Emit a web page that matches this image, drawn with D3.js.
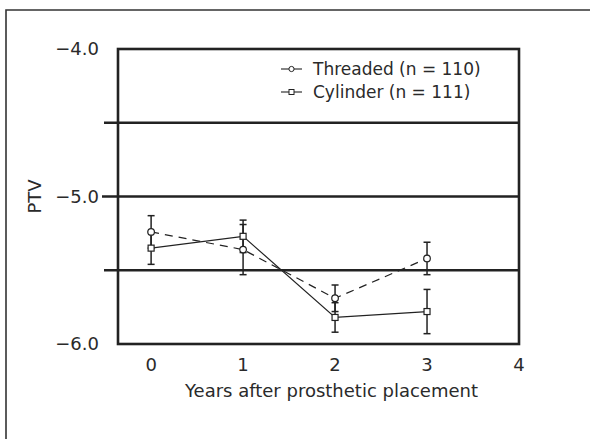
<!DOCTYPE html>
<html>
<head>
<meta charset="utf-8">
<script src="https://cdn.jsdelivr.net/npm/d3@7"></script>
<style>
body { margin: 0; background: #fff; }
text { font-family: "DejaVu Sans", sans-serif; fill: #2a2a2a; }
</style>
</head>
<body>
<div id="chart-container"></div>
<script>
// data
var years = [0, 1, 2, 3];
var threaded = [-5.24, -5.36, -5.69, -5.42];
var threadedErr = [0.11, 0.17, 0.09, 0.11];
var cylinder = [-5.35, -5.27, -5.82, -5.78];
var cylinderErr = [0.11, 0.11, 0.10, 0.15];
var yTicks = [-4.0, -5.0, -6.0];
var gridVals = [-4.5, -5.0, -5.5];
var xTicks = [0, 1, 2, 3, 4];
var legendLabels = ["Threaded (n = 110)", "Cylinder (n = 111)"];

var W = 590, H = 439;
var margin = { top: 49, right: 71, bottom: 95, left: 118 };
var width = W - margin.left - margin.right;
var height = H - margin.top - margin.bottom;

var svg = d3.select("#chart-container").append("svg")
	.attr("width", W)
	.attr("height", H);

// outer frame (only top and left edges show)
svg.append("path")
	.attr("d", "M6,439 V10 H590")
	.attr("fill", "none")
	.attr("stroke", "#333")
	.attr("stroke-width", 1.6);

var g = svg.append("g")
	.attr("transform", "translate(" + margin.left + "," + margin.top + ")");

var x = d3.scaleLinear().domain([-0.36, 4]).range([0, width]);
var y = d3.scaleLinear().domain([-6, -4]).range([height, 0]);

// horizontal lines, poking out left of the box like ticks
g.selectAll(".grid")
	.data(gridVals)
	.enter().append("line")
	.attr("class", "grid")
	.attr("x1", d => d == -5 ? -16 : -14).attr("x2", width)
	.attr("y1", d => y(d)).attr("y2", d => y(d))
	.attr("stroke", "#222")
	.attr("stroke-width", 2.6);

// box
g.append("rect")
	.attr("width", width).attr("height", height)
	.attr("fill", "none")
	.attr("stroke", "#222")
	.attr("stroke-width", 2.6);

// y tick labels
var fmt = d => "\u2212" + Math.abs(d).toFixed(1);
g.selectAll(".ylab")
	.data(yTicks)
	.enter().append("text")
	.attr("x", -19)
	.attr("y", d => y(d))
	.attr("dy", "0.36em")
	.attr("text-anchor", "end")
	.style("font-size", "18px")
	.text(fmt);

// x tick labels
g.selectAll(".xlab")
	.data(xTicks)
	.enter().append("text")
	.attr("x", d => x(d))
	.attr("y", height + 27)
	.attr("text-anchor", "middle")
	.style("font-size", "18px")
	.text(d => d);

g.append("text")
	.attr("x", (x(-0.36) + x(4)) / 2 + 13)
	.attr("y", height + 53)
	.attr("text-anchor", "middle")
	.style("font-size", "18px")
	.text("Years after prosthetic placement");

g.append("text")
	.attr("transform", "translate(-83," + y(-5) + ") rotate(-90)")
	.attr("text-anchor", "middle")
	.attr("dy", "0.36em")
	.style("font-size", "18px")
	.text("PTV");

// error bars
function errorBars(vals, errs) {
	var eb = g.append("g");
	years.forEach(function(yr, i) {
		var cx = x(yr);
		var t = y(vals[i] + errs[i]), b = y(vals[i] - errs[i]);
		eb.append("line").attr("x1", cx).attr("x2", cx).attr("y1", t).attr("y2", b)
			.attr("stroke", "#222").attr("stroke-width", 1.5);
		[t, b].forEach(function(yy) {
			eb.append("line").attr("x1", cx - 3.5).attr("x2", cx + 3.5).attr("y1", yy).attr("y2", yy)
				.attr("stroke", "#222").attr("stroke-width", 1.5);
		});
	});
}
errorBars(threaded, threadedErr);
errorBars(cylinder, cylinderErr);

var line = d3.line().x((d, i) => x(years[i])).y(d => y(d));

g.append("path").datum(threaded)
	.attr("d", line)
	.attr("fill", "none")
	.attr("stroke", "#222")
	.attr("stroke-width", 1.2)
	.attr("stroke-dasharray", "8,6");

g.append("path").datum(cylinder)
	.attr("d", line)
	.attr("fill", "none")
	.attr("stroke", "#222")
	.attr("stroke-width", 1.2);

g.selectAll(".circ")
	.data(threaded)
	.enter().append("circle")
	.attr("cx", (d, i) => x(years[i]))
	.attr("cy", d => y(d))
	.attr("r", 3.3)
	.attr("fill", "#fff")
	.attr("stroke", "#222")
	.attr("stroke-width", 1.2);

g.selectAll(".sq")
	.data(cylinder)
	.enter().append("rect")
	.attr("x", (d, i) => x(years[i]) - 3)
	.attr("y", d => y(d) - 3)
	.attr("width", 6).attr("height", 6)
	.attr("fill", "#fff")
	.attr("stroke", "#222")
	.attr("stroke-width", 1.2);

// legend
var leg = g.append("g").attr("transform", "translate(163,20)");
legendLabels.forEach(function(lbl, i) {
	var ly = i * 23;
	leg.append("line").attr("x1", 0).attr("x2", 21).attr("y1", ly).attr("y2", ly)
		.attr("stroke", "#222").attr("stroke-width", 1.1);
	if (i === 0) {
		leg.append("circle").attr("cx", 10.5).attr("cy", ly).attr("r", 2.6)
			.attr("fill", "#fff").attr("stroke", "#222").attr("stroke-width", 1);
	} else {
		leg.append("rect").attr("x", 8).attr("y", ly - 2.5).attr("width", 5).attr("height", 5)
			.attr("fill", "#fff").attr("stroke", "#222").attr("stroke-width", 1);
	}
	leg.append("text").attr("x", 32).attr("y", ly).attr("dy", "0.36em")
		.style("font-size", "17px").text(lbl);
});
</script>
</body>
</html>
